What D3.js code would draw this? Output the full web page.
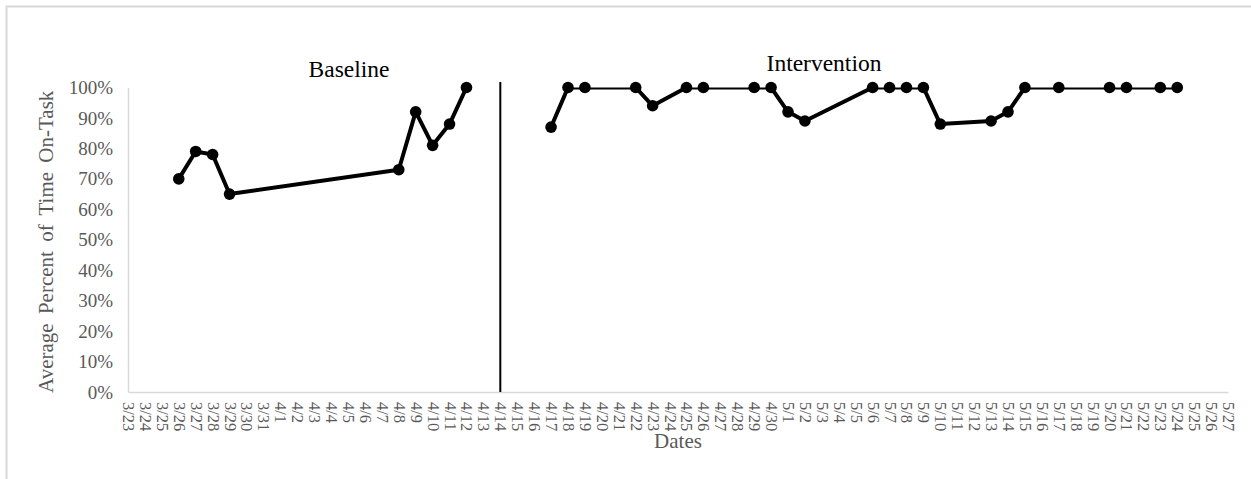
<!DOCTYPE html>
<html>
<head>
<meta charset="utf-8">
<script src="https://cdn.jsdelivr.net/npm/d3@7"></script>
<style>
  html, body { margin: 0; padding: 0; background: #ffffff; }
  svg { display: block; }
  text { font-family: "Liberation Serif", "Times New Roman", serif; }
</style>
</head>
<body>
<svg id="chart" width="1251" height="479"></svg>
<script>
// Session dates shown on the category axis (3/23 through 5/27)
const dateLabels = [
  "3/23","3/24","3/25","3/26","3/27","3/28","3/29","3/30","3/31",
  "4/1","4/2","4/3","4/4","4/5","4/6","4/7","4/8","4/9","4/10",
  "4/11","4/12","4/13","4/14","4/15","4/16","4/17","4/18","4/19","4/20",
  "4/21","4/22","4/23","4/24","4/25","4/26","4/27","4/28","4/29","4/30",
  "5/1","5/2","5/3","5/4","5/5","5/6","5/7","5/8","5/9","5/10",
  "5/11","5/12","5/13","5/14","5/15","5/16","5/17","5/18","5/19","5/20",
  "5/21","5/22","5/23","5/24","5/25","5/26","5/27"
];

// Baseline phase
const baselineDates  = ["3/26","3/27","3/28","3/29","4/8","4/9","4/10","4/11","4/12"];
const baselineValues = [0.70, 0.79, 0.78, 0.65, 0.73, 0.92, 0.81, 0.88, 1.00];

// Intervention phase
const interventionDates  = ["4/17","4/18","4/19","4/22","4/23","4/25","4/26","4/29","4/30",
                            "5/1","5/2","5/6","5/7","5/8","5/9","5/10","5/13","5/14",
                            "5/15","5/17","5/20","5/21","5/23","5/24"];
const interventionValues = [0.87, 1.00, 1.00, 1.00, 0.94, 1.00, 1.00, 1.00, 1.00,
                            0.92, 0.89, 1.00, 1.00, 1.00, 1.00, 0.88, 0.89, 0.92,
                            1.00, 1.00, 1.00, 1.00, 1.00, 1.00];

// Phase change date and labels
const phaseChangeDate = "4/14";
const phaseNames = ["Baseline", "Intervention"];
const yTicks = [0, 0.1, 0.2, 0.3, 0.4, 0.5, 0.6, 0.7, 0.8, 0.9, 1.0];

const svg = d3.select("#chart");
const W = 1251, H = 479;
const plot = { left: 128, right: 1228, top: 87.5, bottom: 392 };
const gray = "#595959";

// Chart area frame
svg.append("rect")
  .attr("x", 6.5).attr("y", 6.5)
  .attr("width", W + 20).attr("height", H + 20)
  .attr("fill", "#ffffff")
  .attr("stroke", "#d9d9d9").attr("stroke-width", 2);

const x = d3.scalePoint().domain(dateLabels).range([plot.left, plot.right]);
const y = d3.scaleLinear().domain([0, 1]).range([plot.bottom, plot.top]);

// Clip the data lines to the plot area (markers stay whole)
svg.append("defs").append("clipPath").attr("id", "plotClip")
  .append("rect")
  .attr("x", plot.left - 20).attr("y", plot.top)
  .attr("width", plot.right - plot.left + 40)
  .attr("height", plot.bottom - plot.top);

// Y axis
const yAxis = svg.append("g")
  .attr("transform", `translate(${plot.left},0)`)
  .call(d3.axisLeft(y).tickValues(yTicks).tickFormat(d3.format(".0%")).tickSize(0).tickPadding(15));
yAxis.select(".domain").attr("stroke", "#d9d9d9").attr("stroke-width", 1.5);
yAxis.selectAll("text")
  .attr("fill", gray)
  .style("font-family", "Liberation Serif")
  .style("font-size", "19px");

// X axis with rotated date labels
const xAxis = svg.append("g")
  .attr("transform", `translate(0,${plot.bottom})`)
  .call(d3.axisBottom(x).tickSize(0).tickPadding(0));
xAxis.select(".domain").attr("stroke", "#d9d9d9").attr("stroke-width", 1.5);
xAxis.selectAll("text")
  .attr("fill", gray)
  .style("font-family", "Liberation Serif")
  .style("font-size", "16.5px")
  .attr("text-anchor", "start")
  .attr("dy", null)
  .attr("y", 0)
  .attr("transform", "translate(0,10) rotate(90)")
  .attr("dominant-baseline", "central");

// Axis titles
svg.append("text")
  .attr("x", 678).attr("y", 448)
  .attr("text-anchor", "middle")
  .attr("fill", gray)
  .style("font-size", "21px")
  .text("Dates");

svg.append("text")
  .attr("transform", `translate(53,${(plot.top + plot.bottom) / 2 + 2}) rotate(-90)`)
  .attr("text-anchor", "middle")
  .attr("fill", gray)
  .style("font-size", "21px")
  .style("word-spacing", "4px")
  .text("Average Percent of Time On-Task");

// Phase change line
svg.append("line")
  .attr("x1", x(phaseChangeDate)).attr("x2", x(phaseChangeDate))
  .attr("y1", 82).attr("y2", plot.bottom)
  .attr("stroke", "#000").attr("stroke-width", 2);

// Phase labels
svg.append("text")
  .attr("x", 349).attr("y", 77)
  .attr("text-anchor", "middle")
  .attr("fill", "#000")
  .style("font-size", "23.5px")
  .text(phaseNames[0]);
svg.append("text")
  .attr("x", 824).attr("y", 71)
  .attr("text-anchor", "middle")
  .attr("fill", "#000")
  .style("font-size", "23.5px")
  .text(phaseNames[1]);

// Data series
const line = d3.line().x(d => x(d.date)).y(d => y(d.value));
const series = [
  baselineDates.map((d, i) => ({ date: d, value: baselineValues[i] })),
  interventionDates.map((d, i) => ({ date: d, value: interventionValues[i] }))
];

series.forEach(pts => {
  svg.append("path")
    .datum(pts)
    .attr("d", line)
    .attr("fill", "none")
    .attr("stroke", "#000")
    .attr("stroke-width", 4)
    .attr("stroke-linejoin", "round")
    .attr("clip-path", "url(#plotClip)");
  svg.append("g").selectAll("circle")
    .data(pts)
    .join("circle")
    .attr("cx", d => x(d.date))
    .attr("cy", d => y(d.value))
    .attr("r", 5.8)
    .attr("fill", "#000");
});
</script>
</body>
</html>
